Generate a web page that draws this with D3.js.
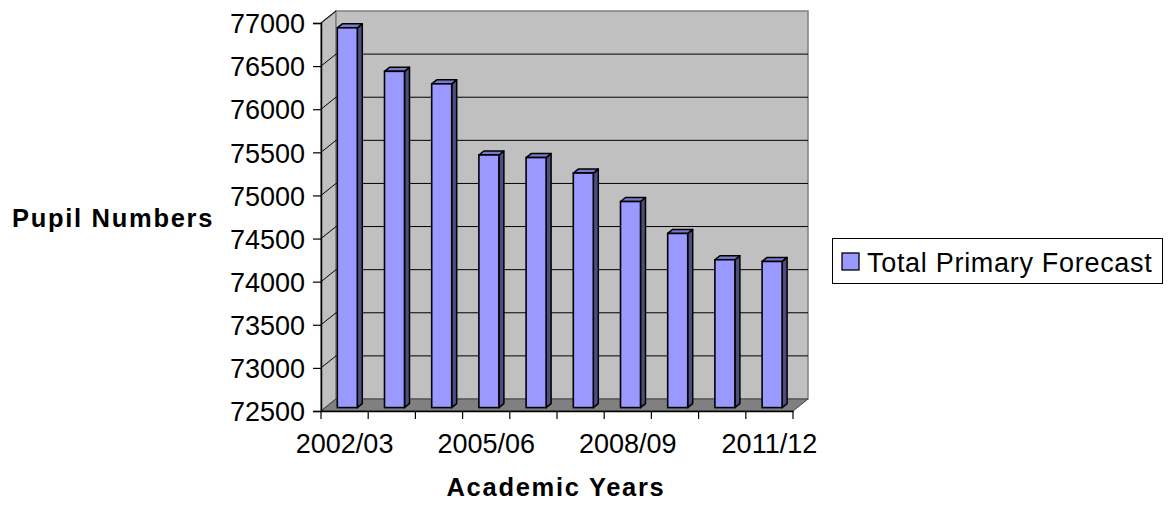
<!DOCTYPE html>
<html>
<head>
<meta charset="utf-8">
<script src="https://cdn.jsdelivr.net/npm/d3@7"></script>
<style>
  html, body { margin: 0; padding: 0; background: #ffffff; }
  svg { display: block; }
  text { font-family: "Liberation Sans", Arial, sans-serif; fill: #000; }
</style>
</head>
<body>
<svg id="chart" width="1170" height="505"></svg>
<script>
// ---- data ----
const categories = ["2002/03", "2003/04", "2004/05", "2005/06", "2006/07",
                    "2007/08", "2008/09", "2009/10", "2010/11", "2011/12"];
const totalPrimaryForecast = [76905, 76400, 76255, 75430, 75400, 75220, 74890, 74520, 74215, 74195];
const yTicks = [72500, 73000, 73500, 74000, 74500, 75000, 75500, 76000, 76500, 77000];
const shownCategoryLabels = ["2002/03", "2005/06", "2008/09", "2011/12"];
const seriesName = "Total Primary Forecast";
const yTitle = "Pupil Numbers";
const xTitle = "Academic Years";

(function () {
// ---- layout ----
const svg = d3.select("#chart");
const pLeft = 321, pRight = 793, pTop = 23, pBottom = 411;
const depth = { x: 15, y: -12 };      // wall depth
const faceShift = { x: 4.2, y: -3.4 }; // bar front plane
const barDepth = { x: 5, y: -4 };
const barW = 20;

const x = d3.scaleBand().domain(categories).range([pLeft, pRight]).padding(0);
const y = d3.scaleLinear().domain([72500, 77000]).range([pBottom, pTop]);

const g = svg.append("g");

// side wall
g.append("polygon")
  .attr("points", [[pLeft, pTop], [pLeft + depth.x, pTop + depth.y], [pLeft + depth.x, pBottom + depth.y], [pLeft, pBottom]].join(" "))
  .attr("fill", "#c0c0c0").attr("stroke", "#808080").attr("stroke-width", 1.5);
// back wall
g.append("polygon")
  .attr("points", [[pLeft + depth.x, pTop + depth.y], [pRight + depth.x, pTop + depth.y], [pRight + depth.x, pBottom + depth.y], [pLeft + depth.x, pBottom + depth.y]].join(" "))
  .attr("fill", "#c0c0c0").attr("stroke", "#808080").attr("stroke-width", 1.5);

// gridlines on back wall and side wall
const inner = yTicks.filter(t => t > 72500 && t < 77000);
g.selectAll("line.grid").data(inner).enter().append("line")
  .attr("x1", pLeft + depth.x).attr("x2", pRight + depth.x)
  .attr("y1", d => y(d) + depth.y).attr("y2", d => y(d) + depth.y)
  .attr("stroke", "#000").attr("stroke-width", 1);
g.selectAll("line.sgrid").data(yTicks.filter(t => t > 72500)).enter().append("line")
  .attr("x1", pLeft).attr("x2", pLeft + depth.x)
  .attr("y1", d => y(d)).attr("y2", d => y(d) + depth.y)
  .attr("stroke", "#000").attr("stroke-width", 1);

// floor
g.append("polygon")
  .attr("points", [[pLeft, pBottom], [pLeft + depth.x, pBottom + depth.y], [pRight + depth.x, pBottom + depth.y], [pRight, pBottom]].join(" "))
  .attr("fill", "#808080").attr("stroke", "#404040").attr("stroke-width", 1);

// bars
const bars = g.selectAll("g.bar").data(categories.map((c, i) => ({ c, v: totalPrimaryForecast[i] })))
  .enter().append("g");
bars.each(function(d) {
  const s = d3.select(this);
  const fx = x(d.c) + 12.1 + faceShift.x;
  const yt = y(d.v) + faceShift.y;
  const yb = y(72500) + faceShift.y;
  s.append("polygon")
    .attr("points", [[fx + barW, yt], [fx + barW + barDepth.x, yt + barDepth.y], [fx + barW + barDepth.x, yb + barDepth.y], [fx + barW, yb]].join(" "))
    .attr("fill", "#4d4d80").attr("stroke", "#000").attr("stroke-width", 1.5).attr("stroke-linejoin", "round");
  s.append("polygon")
    .attr("points", [[fx, yt], [fx + barDepth.x, yt + barDepth.y], [fx + barW + barDepth.x, yt + barDepth.y], [fx + barW, yt]].join(" "))
    .attr("fill", "#7a7acc").attr("stroke", "#000").attr("stroke-width", 1.5).attr("stroke-linejoin", "round");
  s.append("rect")
    .attr("x", fx).attr("y", yt).attr("width", barW).attr("height", yb - yt)
    .attr("fill", "#9999ff").attr("stroke", "#000").attr("stroke-width", 1.6);
});

// y axis
const yAxis = d3.axisLeft(y).tickValues(yTicks).tickSize(8).tickPadding(8).tickFormat(d3.format("d"));
const ya = svg.append("g").attr("transform", `translate(${pLeft},0)`).call(yAxis);
ya.attr("font-family", null).attr("font-size", null);
ya.select(".domain").attr("stroke", "#000").attr("stroke-width", 1.5);
ya.selectAll(".tick line").attr("stroke", "#000").attr("stroke-width", 1.2);
ya.selectAll(".tick text").style("font-size", "27px").attr("dy", "0.36em");

// x axis
const xAxis = d3.axisBottom(x).tickSize(0).tickPadding(23)
  .tickFormat(d => shownCategoryLabels.includes(d) ? d : "");
const xa = svg.append("g").attr("transform", `translate(0,${pBottom})`).call(xAxis);
xa.attr("font-family", null).attr("font-size", null);
xa.select(".domain").attr("stroke", "#000").attr("stroke-width", 1.5);
xa.selectAll(".tick text").style("font-size", "27px");
// boundary ticks
const bounds = categories.map(c => x(c)).concat([pRight]);
xa.selectAll("line.bt").data(bounds).enter().append("line")
  .attr("x1", d => d).attr("x2", d => d).attr("y1", 0).attr("y2", 8)
  .attr("stroke", "#000").attr("stroke-width", 1.2);

// titles
svg.append("text").attr("x", 12).attr("y", 227)
  .style("font-size", "25.5px").style("font-weight", "bold").style("letter-spacing", "1.7px")
  .text(yTitle);
svg.append("text").attr("x", 556).attr("y", 496).attr("text-anchor", "middle")
  .style("font-size", "25.5px").style("font-weight", "bold").style("letter-spacing", "1.7px")
  .text(xTitle);

// legend
const lg = svg.append("g");
lg.append("rect").attr("x", 832.5).attr("y", 238.5).attr("width", 330).attr("height", 45)
  .attr("fill", "#fff").attr("stroke", "#000").attr("stroke-width", 1);
lg.append("rect").attr("x", 842).attr("y", 253).attr("width", 17).attr("height", 17)
  .attr("fill", "#9999ff").attr("stroke", "#000").attr("stroke-width", 1.3);
lg.append("text").attr("x", 867).attr("y", 272).style("font-size", "27px")
  .style("letter-spacing", "0.7px").text(seriesName);
})();
</script>
</body>
</html>
